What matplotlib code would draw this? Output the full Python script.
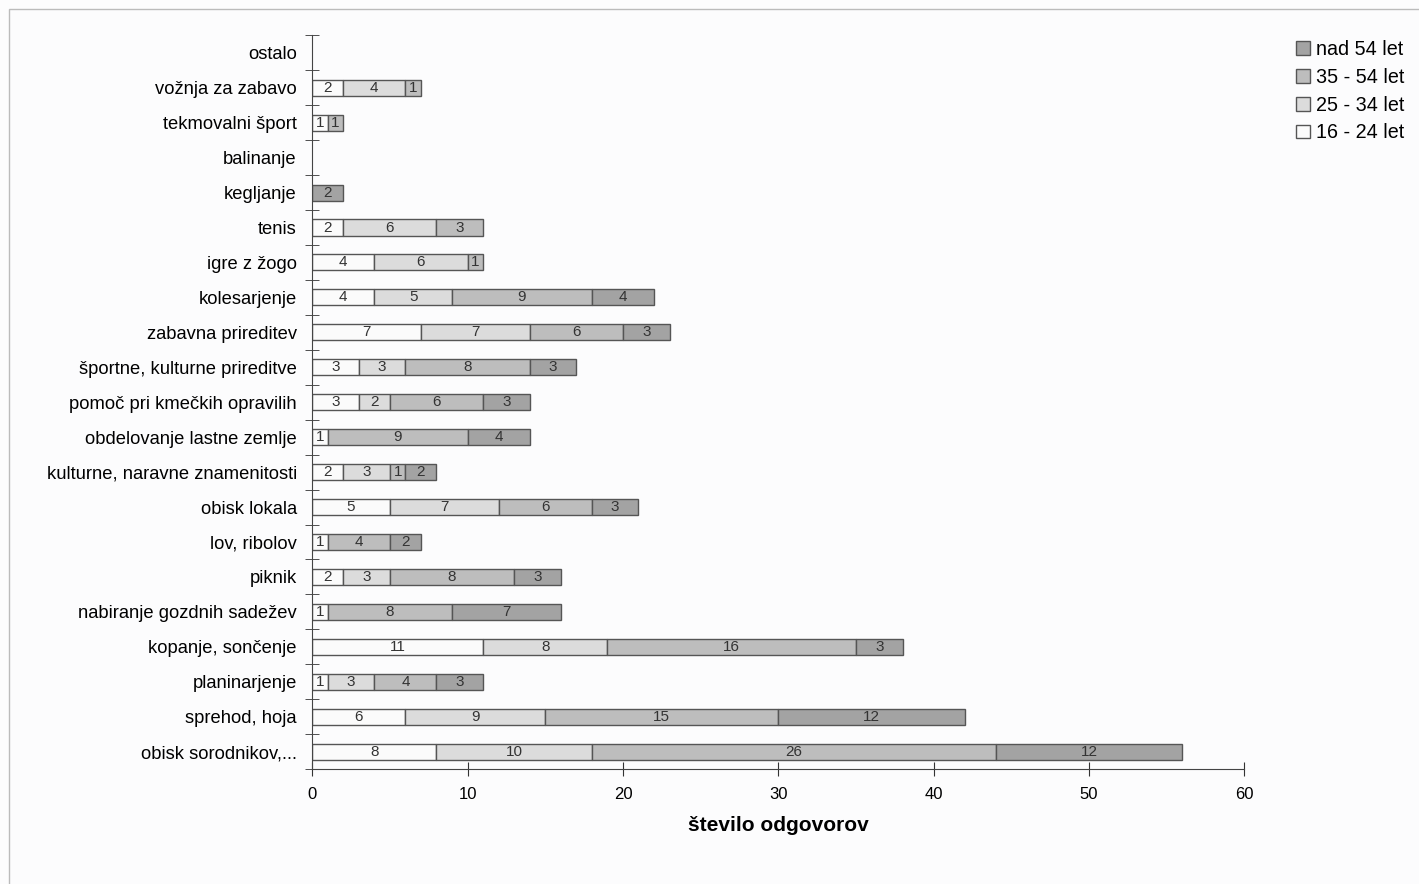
import matplotlib

matplotlib.use('Agg')
import matplotlib.pyplot as plt
from matplotlib.patches import Rectangle
import numpy as np

plt.rcParams['font.family'] = ['Liberation Sans', 'DejaVu Sans']

# categories from bottom to top
categories = ['obisk sorodnikov,...', 'sprehod, hoja', 'planinarjenje', 'kopanje, sončenje',
              'nabiranje gozdnih sadežev', 'piknik', 'lov, ribolov', 'obisk lokala',
              'kulturne, naravne znamenitosti', 'obdelovanje lastne zemlje',
              'pomoč pri kmečkih opravilih', 'športne, kulturne prireditve',
              'zabavna prireditev', 'kolesarjenje', 'igre z žogo', 'tenis', 'kegljanje',
              'balinanje', 'tekmovalni šport', 'vožnja za zabavo', 'ostalo']

age_16_24 = [8, 6, 1, 11, 1, 2, 1, 5, 2, 1, 3, 3, 7, 4, 4, 2, 0, 0, 1, 2, 0]
age_25_34 = [10, 9, 3, 8, 0, 3, 0, 7, 3, 0, 2, 3, 7, 5, 6, 6, 0, 0, 0, 4, 0]
age_35_54 = [26, 15, 4, 16, 8, 8, 4, 6, 1, 9, 6, 8, 6, 9, 1, 3, 0, 0, 1, 1, 0]
age_nad_54 = [12, 12, 3, 3, 7, 3, 2, 3, 2, 4, 3, 3, 3, 4, 0, 0, 2, 0, 0, 0, 0]

series = [('16 - 24 let', age_16_24, '#fbfbfb'),
          ('25 - 34 let', age_25_34, '#dcdcdc'),
          ('35 - 54 let', age_35_54, '#bdbdbd'),
          ('nad 54 let', age_nad_54, '#a3a3a3')]

fig = plt.figure(figsize=(14.19, 8.84), dpi=100)
fig.patch.set_facecolor('#fcfcfd')
ax = fig.add_axes([0.22, 0.13, 0.657, 0.83])
ax.set_facecolor('none')

y = np.arange(len(categories))
left = np.zeros(len(categories))
handles = []
for name, vals, col in series:
    vals = np.array(vals, dtype=float)
    nz = vals > 0  # skip empty segments, otherwise an edge line is drawn
    bars = ax.barh(y[nz], vals[nz], left=left[nz], height=0.46, color=col,
                   edgecolor='#555555', linewidth=1.0, label=name)
    for yi in y[nz]:
        ax.text(left[yi] + vals[yi] / 2, yi, str(int(vals[yi])), ha='center', va='center',
                fontsize=11, color='#333333')
    handles.append(bars)
    left += vals

ax.set_xlim(0, 60)
ax.set_ylim(-0.5, len(categories) - 0.5)
ax.set_xticks(np.arange(0, 61, 10))
ax.set_yticks(y)
ax.set_yticklabels(categories, fontsize=13.2)
ax.set_yticks(np.arange(-0.5, len(categories), 1), minor=True)
ax.tick_params(axis='y', which='major', length=0, pad=11)
ax.tick_params(axis='y', which='minor', direction='inout', length=10, color='#333333')
ax.tick_params(axis='x', direction='inout', length=10, labelsize=12, pad=8, color='#333333')
for s in ['top', 'right']:
    ax.spines[s].set_visible(False)
ax.spines['left'].set_color('#444444')
ax.spines['bottom'].set_color('#444444')
ax.set_xlabel('število odgovorov', fontsize=15, fontweight='bold', labelpad=10)

leg = fig.legend(handles[::-1], [s[0] for s in series][::-1], loc='upper right',
                 bbox_to_anchor=(1.002, 0.975), frameon=False, fontsize=14.2,
                 handlelength=0.7, handleheight=0.7, handletextpad=0.3, labelspacing=0.45)

# scan frame
fig.patches.append(Rectangle((0.006, -0.01), 1.1, 1.0, transform=fig.transFigure,
                             fill=False, edgecolor='#bbbbbb', linewidth=1))

fig.savefig('out.png', dpi=100)
